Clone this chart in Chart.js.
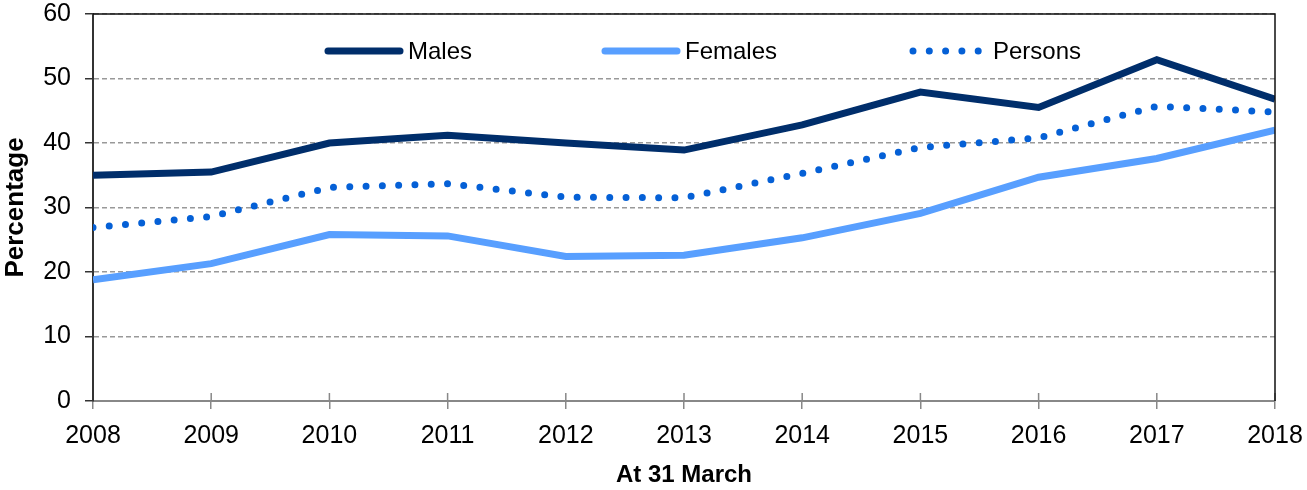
<!DOCTYPE html>
<html>
<head>
<meta charset="utf-8">
<script src="https://cdn.jsdelivr.net/npm/chart.js@4/dist/chart.umd.min.js"></script>
<style>
  html, body { margin: 0; padding: 0; background: #fff; }
  #wrap { width: 1307px; height: 490px; }
</style>
</head>
<body>
<div id="wrap"><canvas id="chart"></canvas></div>
<script>
const years = ["2008", "2009", "2010", "2011", "2012", "2013", "2014", "2015", "2016", "2017", "2018"];
const males = [35.0, 35.5, 40.0, 41.2, 40.0, 38.9, 42.8, 47.9, 45.5, 52.9, 46.8];
const females = [18.8, 21.3, 25.8, 25.6, 22.4, 22.6, 25.3, 29.1, 34.7, 37.6, 42.0];
const persons = [26.9, 28.6, 33.1, 33.7, 31.6, 31.5, 35.3, 39.3, 40.8, 45.7, 44.8];
const yTicks = [0, 10, 20, 30, 40, 50, 60];

const FONT = "'Liberation Sans', Arial, sans-serif";

// legend drawn inside the plot, offsets from chartArea.left
const legendSlots = [235, 512, 820];
const insideLegend = {
    id: "insideLegend",
    afterDraw(chart) {
        const ctx = chart.ctx;
        const area = chart.chartArea;
        const y = area.top + 37;
        chart.data.datasets.forEach(function (ds, i) {
            const x = area.left + legendSlots[i];
            ctx.save();
            ctx.strokeStyle = ds.borderColor;
            ctx.lineWidth = ds.borderWidth;
            ctx.lineCap = "round";
            ctx.setLineDash(ds.borderDash || []);
            ctx.beginPath();
            ctx.moveTo(x, y);
            ctx.lineTo(x + 72, y);
            ctx.stroke();
            ctx.setLineDash([]);
            ctx.fillStyle = "#000";
            ctx.font = "24px " + FONT;
            ctx.textBaseline = "middle";
            ctx.fillText(ds.label, x + 80, y + 1);
            ctx.restore();
        });
    }
};

// x tick marks cross the axis, and the plot has a thin frame on top/right
const axisMarks = {
    id: "axisMarks",
    afterDraw(chart) {
        const ctx = chart.ctx;
        const area = chart.chartArea;
        const xs = chart.scales.x;
        ctx.save();
        ctx.strokeStyle = "#888";
        ctx.lineWidth = 1.5;
        ctx.beginPath();
        for (let i = 1; i < xs.ticks.length; i++) {
            const px = xs.getPixelForTick(i);
            ctx.moveTo(px, area.bottom);
            ctx.lineTo(px, area.bottom - 8);
        }
        ctx.stroke();
        ctx.strokeStyle = "#111";
        ctx.lineWidth = 1.5;
        ctx.beginPath();
        ctx.moveTo(area.left, area.top);
        ctx.lineTo(area.right, area.top);
        ctx.lineTo(area.right, area.bottom);
        ctx.stroke();
        ctx.restore();
    }
};

document.addEventListener("DOMContentLoaded", function () {
    const ctx = document.getElementById("chart").getContext("2d");
    new Chart(ctx, {
        type: "line",
        data: {
            labels: years,
            datasets: [
                {
                    label: "Males",
                    data: males,
                    borderColor: "#002e6b",
                    borderWidth: 7,
                    pointRadius: 0,
                    tension: 0,
                    clip: 0
                },
                {
                    label: "Females",
                    data: females,
                    borderColor: "#589fff",
                    borderWidth: 7,
                    pointRadius: 0,
                    tension: 0,
                    clip: 0
                },
                {
                    label: "Persons",
                    data: persons,
                    borderColor: "#0560d6",
                    borderWidth: 7,
                    borderDash: [0, 16.3],
                    borderCapStyle: "round",
                    pointRadius: 0,
                    tension: 0,
                    clip: 0
                }
            ]
        },
        options: {
            responsive: true,
            maintainAspectRatio: false,
            animation: false,
            layout: { padding: 0 },
            plugins: {
                legend: { display: false },
                tooltip: { enabled: false }
            },
            scales: {
                x: {
                    offset: false,
                    afterFit: function (scale) {
                        scale.height = 89;
                        scale.paddingLeft = 0;
                        scale.paddingRight = 32;
                    },
                    grid: {
                        drawOnChartArea: false,
                        tickLength: 8,
                        tickColor: "#888",
                        lineWidth: 1.5
                    },
                    border: { color: "#888", width: 2 },
                    ticks: {
                        color: "#000",
                        font: { family: FONT, size: 25 },
                        padding: 12,
                        maxRotation: 0,
                        autoSkip: false
                    },
                    title: {
                        display: true,
                        text: "At 31 March",
                        color: "#000",
                        font: { family: FONT, size: 24, weight: "bold" },
                        padding: { top: 11, bottom: 0 }
                    }
                },
                y: {
                    min: yTicks[0],
                    max: yTicks[yTicks.length - 1],
                    afterBuildTicks: function (scale) {
                        scale.ticks = yTicks.map(function (v) { return { value: v }; });
                    },
                    afterFit: function (scale) {
                        scale.width = 93;
                        scale.paddingTop = 14;
                        scale.paddingBottom = 0;
                    },
                    grid: {
                        color: function (c) {
                            if (c.tick && c.tick.value === 0) return "rgba(0,0,0,0)";
                            return "#999";
                        },
                        tickColor: "#333",
                        tickLength: 8,
                        lineWidth: 1.5
                    },
                    border: {
                        color: "#333",
                        width: 2,
                        dash: [5, 3]
                    },
                    ticks: {
                        color: "#000",
                        font: { family: FONT, size: 25 },
                        padding: 14
                    },
                    title: {
                        display: true,
                        text: "Percentage",
                        color: "#000",
                        font: { family: FONT, size: 26, weight: "bold" },
                        padding: { top: 0, bottom: 2 }
                    }
                }
            }
        },
        plugins: [insideLegend, axisMarks]
    });
});
</script>
</body>
</html>
